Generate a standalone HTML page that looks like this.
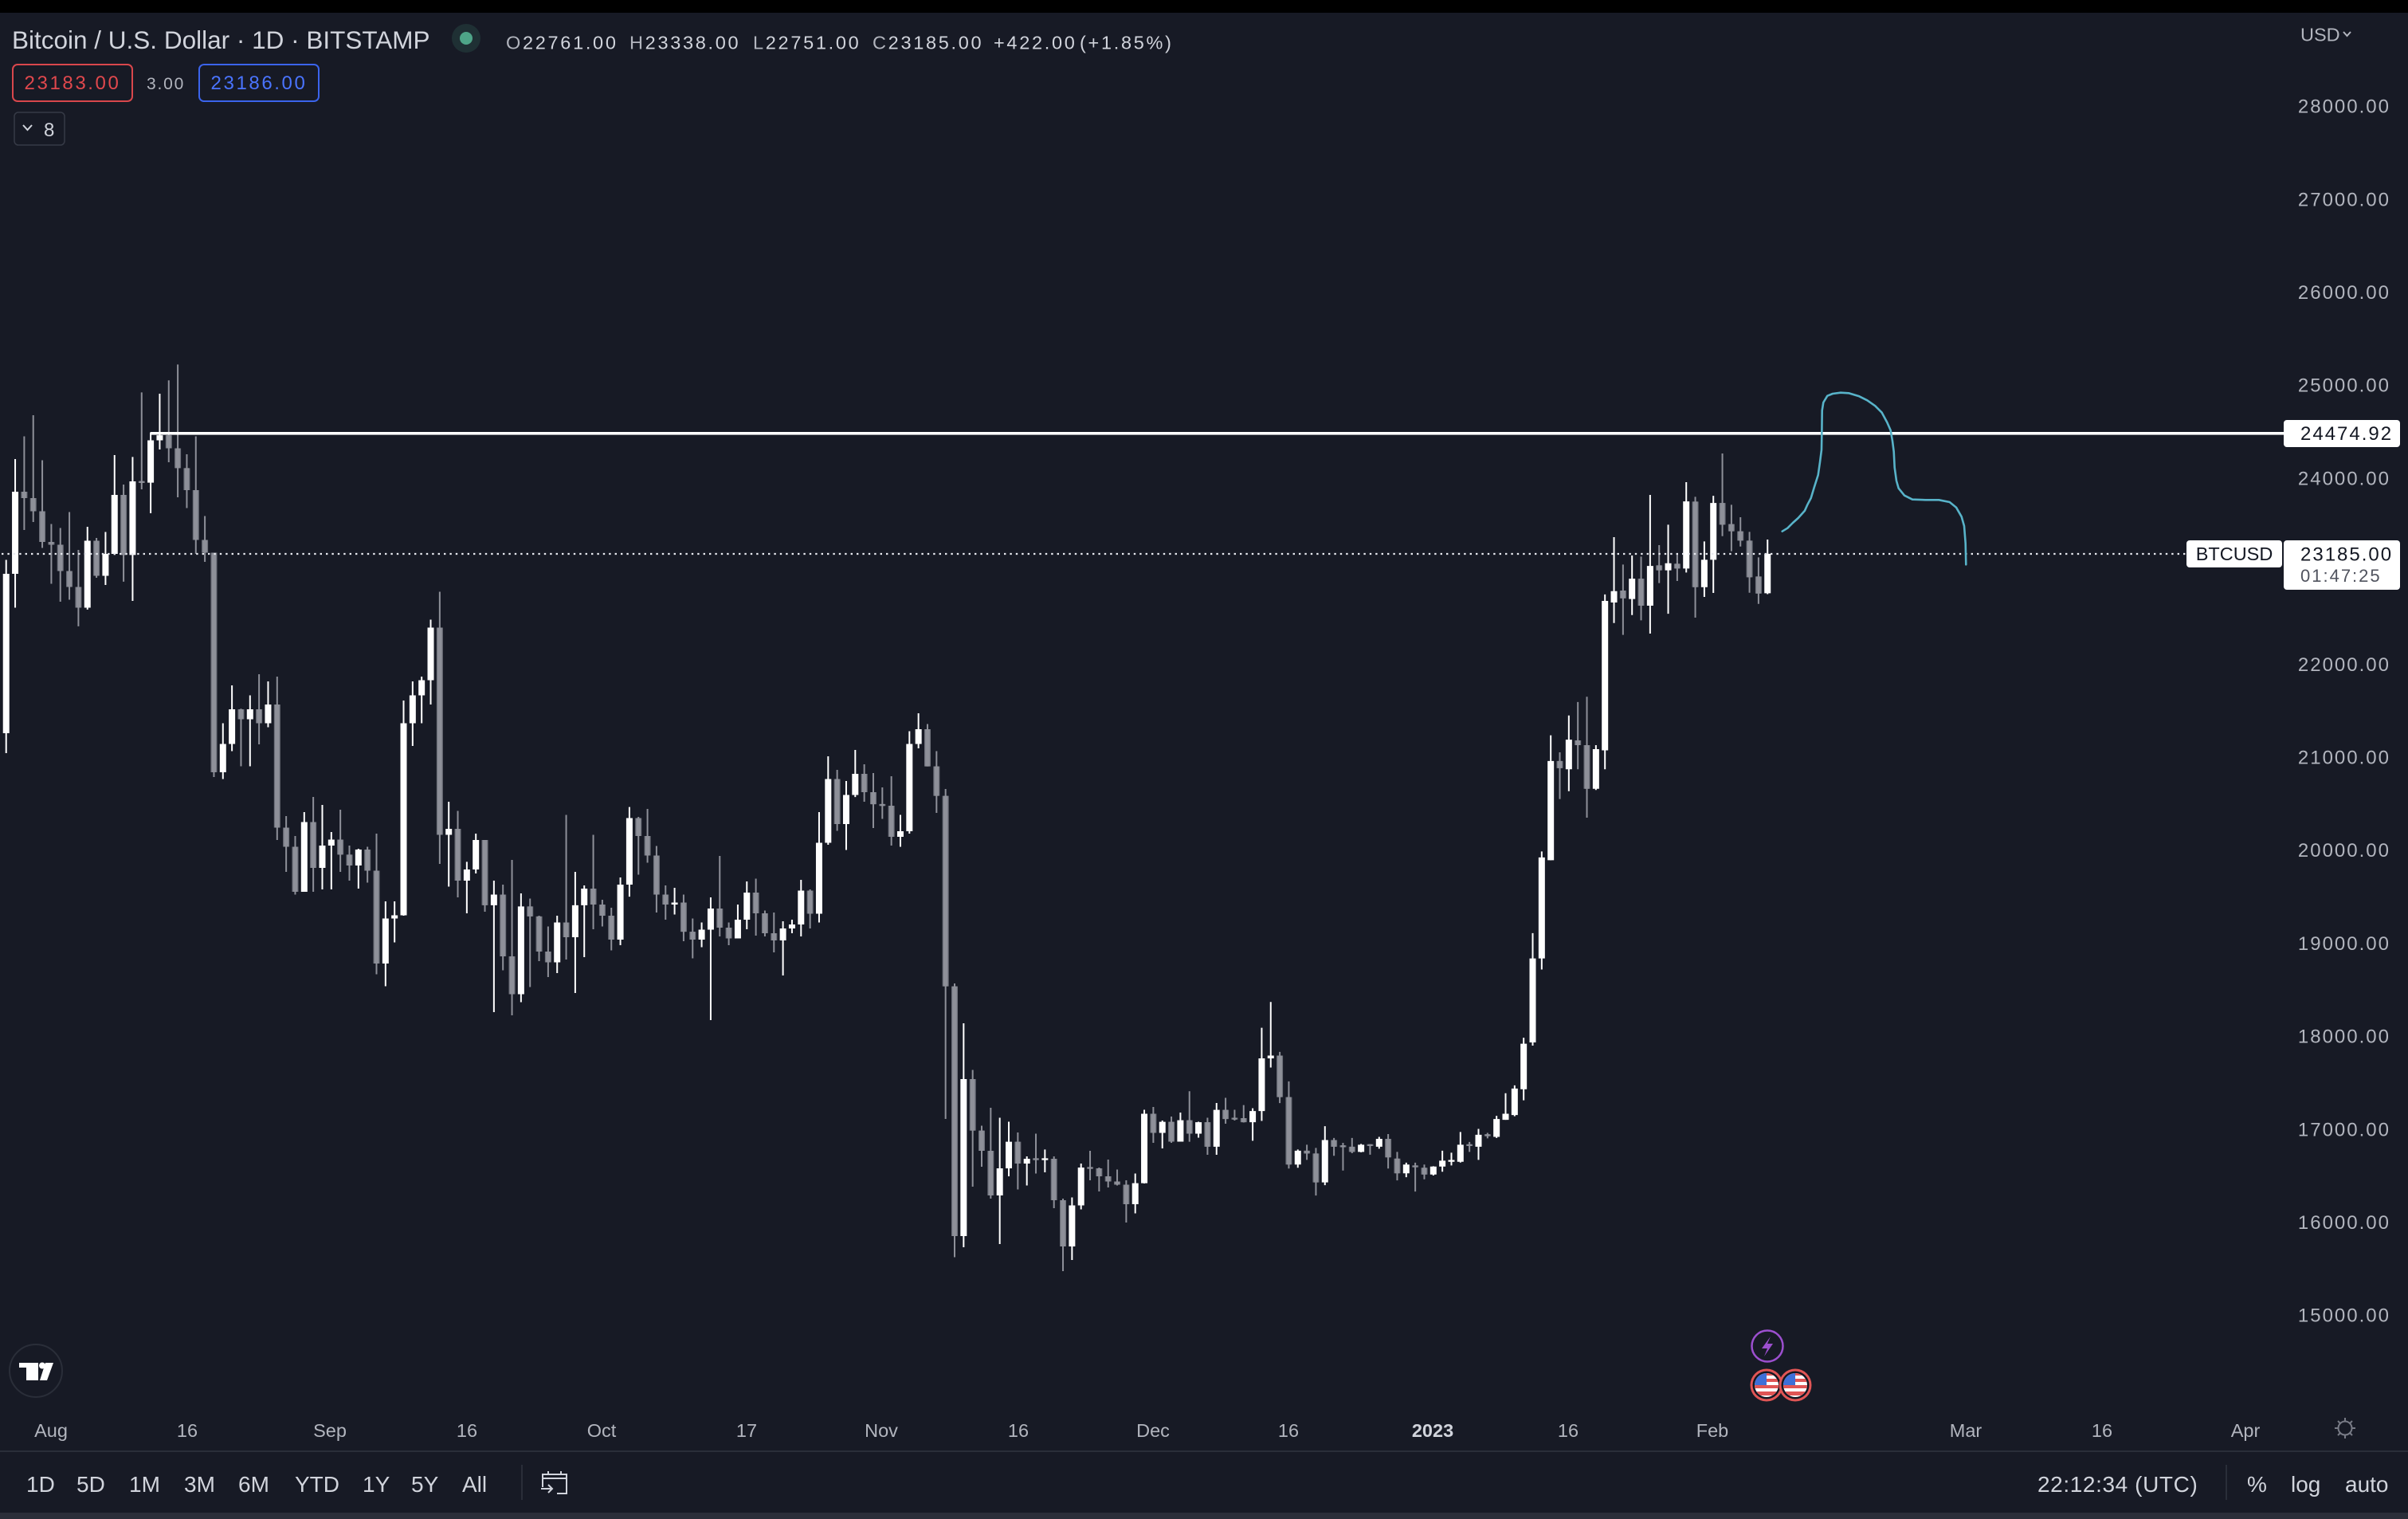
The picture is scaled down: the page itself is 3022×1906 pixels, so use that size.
<!DOCTYPE html>
<html><head><meta charset="utf-8">
<style>
html,body{margin:0;padding:0;background:#171a25;width:3022px;height:1906px;overflow:hidden}
svg{display:block;font-family:"Liberation Sans",sans-serif}
.dig{letter-spacing:2px}
</style></head><body>
<svg width="3022" height="1906" viewBox="0 0 3022 1906" xmlns="http://www.w3.org/2000/svg">
<rect width="3022" height="1906" fill="#171a25"/>
<rect width="3022" height="16" fill="#000"/>

<!-- header -->
<text x="15" y="61" font-size="31.5" fill="#d1d4dc">Bitcoin / U.S. Dollar · 1D · BITSTAMP</text>
<circle cx="585" cy="48" r="18" fill="#1f3034"/>
<circle cx="585" cy="48" r="8" fill="#4ea588"/>
<g font-size="23.5" style="letter-spacing:2.7px">
<text x="635" y="61.7"><tspan fill="#b2b5be">O</tspan><tspan fill="#d1d4dc">22761.00</tspan></text>
<text x="790" y="61.7"><tspan fill="#b2b5be">H</tspan><tspan fill="#d1d4dc">23338.00</tspan></text>
<text x="945" y="61.7"><tspan fill="#b2b5be">L</tspan><tspan fill="#d1d4dc">22751.00</tspan></text>
<text x="1095" y="61.7"><tspan fill="#b2b5be">C</tspan><tspan fill="#d1d4dc">23185.00</tspan></text>
<text x="1247" y="61.7" fill="#d1d4dc">+422.00</text>
<text x="1355" y="61.7" fill="#d1d4dc">(+1.85%)</text>
</g>
<rect x="16" y="81" width="150" height="46" rx="6" fill="none" stroke="#d9474c" stroke-width="2"/>
<text x="91" y="112" font-size="24" fill="#e0484d" text-anchor="middle" style="letter-spacing:2.6px">23183.00</text>
<text x="184" y="112" font-size="21" fill="#b2b5be" style="letter-spacing:1.8px">3.00</text>
<rect x="250" y="81" width="150" height="46" rx="6" fill="none" stroke="#3b64ec" stroke-width="2"/>
<text x="325" y="112" font-size="24" fill="#4a74ff" text-anchor="middle" style="letter-spacing:2.6px">23186.00</text>
<rect x="18" y="141" width="63" height="41" rx="5" fill="none" stroke="#363a46" stroke-width="1.5"/>
<path d="M29 157 L34.5 163 L40 157" fill="none" stroke="#d1d4dc" stroke-width="2"/>
<text x="55" y="171" font-size="24" fill="#d1d4dc">8</text>

<text x="2887" y="51.7" font-size="23.5" fill="#b2b5be">USD</text>
<path d="M2941 40 L2945.5 45 L2950 40" fill="none" stroke="#b2b5be" stroke-width="2"/>

<!-- price axis -->
<g font-size="24" fill="#b2b5be" text-anchor="end" class="dig">
<text x="3000" y="141.6">28000.00</text>
<text x="3000" y="258.3">27000.00</text>
<text x="3000" y="375">26000.00</text>
<text x="3000" y="491.7">25000.00</text>
<text x="3000" y="608.4">24000.00</text>
<text x="3000" y="841.8">22000.00</text>
<text x="3000" y="958.5">21000.00</text>
<text x="3000" y="1075.2">20000.00</text>
<text x="3000" y="1191.9">19000.00</text>
<text x="3000" y="1308.6">18000.00</text>
<text x="3000" y="1425.3">17000.00</text>
<text x="3000" y="1542">16000.00</text>
<text x="3000" y="1658.7">15000.00</text>
</g>

<!-- candles: x = 64.4 + 11.336*day, y = 3400.6 - 0.1167*price -->
<g transform="matrix(11.336 0 0 -0.1167 64.4 3400.6)" fill="none" stroke-linecap="butt">
<!-- white wicks -->
<path vector-effect="non-scaling-stroke" stroke="#ffffff" stroke-width="2" d="
M-5 23120V21042 M-4 24204V22606 M4 23476V22585 M6 23420V22850 M7 24247V23173 M9 24226V22679 M11 24491V23621 M12 24907V24307
M19 21363V20764 M20 21770V21063 M22 21663V20901 M24 21813V21321 M28 20408V19551 M30 20485V19577 M31 20194V19577 M34 20014V19585
M37 19448V18536 M38 19448V19007 M39 21608V19294 M40 21813V21119 M41 21865V21363 M42 22477V21565 M44 20519V19607 M46 19873V19320
M47 20177V19748 M49 19671V18257 M52 19534V18364 M56 19294V18677 M58 19765V18463 M59 19620V18848 M63 19705V18977 M64 20463V19499
M69 19594V19307 M72 19221V18955 M73 19491V18171 M76 19414V19050 M77 19662V19148 M81 19234V18651 M82 19251V19105 M83 19680V19071
M85 20408V19221 M86 21008V20057 M88 20742V20001 M89 21076V20570 M94 20378V20035 M95 21278V20176 M96 21470V21093 M101 18137V15729
M105 17122V15763 M106 17079V16492 M108 16706V16393 M110 16780V16535 M113 16265V15592 M114 16629V16136 M120 16522V16093 M121 17207V16415
M123 17092V16792 M125 17177V16865 M127 17079V16907 M129 17280V16723 M133 17223V16874 M134 18089V17087 M135 18366V17662 M138 16780V16584
M141 17031V16396 M145 16840V16750 M147 16916V16789 M150 16639V16482 M153 16600V16500 M154 16767V16541 M155 16746V16609 M156 16968V16640
M158 17002V16669 M160 17142V16904 M161 17385V17099 M162 17470V17138 M163 17982V17309 M164 19107V17897 M165 19985V18715 M166 21234V19891
M168 21447V20633 M171 21128V20646 M172 22748V20868 M173 23364V22441 M175 23167V22527 M177 23818V22327 M179 23498V22541 M181 23955V22984
M183 23318V22721 M184 23809V22764 M190 23338V22751"/>
<!-- gray wicks -->
<path vector-effect="non-scaling-stroke" stroke="#8e9099" stroke-width="2" d="
M-3 24448V23441 M-2 24675V23527 M-1 24191V23249 M0 23506V22863 M1 23463V22670 M2 23634V22692 M3 23227V22405 M5 23356V22927
M8 23930V22885 M10 24920V23878 M13 25050V24170 M14 25220V23793 M15 24255V23677 M16 24448V23184 M17 23591V23099 M18 23197V20785
M21 21520V20901 M23 21890V21136 M25 21865V20108 M26 20365V19765 M27 20151V19521 M29 20571V19551 M32 20434V19765 M33 20048V19671
M35 20035V19650 M36 20177V18664 M43 22777V19851 M45 20421V19491 M48 20108V19337 M50 19628V18707 M51 19894V18223 M53 19478V18527
M54 19294V18806 M55 19178V18634 M57 20378V18823 M60 20164V19148 M61 19465V19178 M62 19380V18921 M65 20357V19735 M66 20442V19864
M67 20044V19328 M68 19620V19251 M70 19521V19020 M71 19264V18835 M74 19937V19071 M75 19221V18977 M78 19692V19080 M79 19350V19071
M80 19328V18900 M84 19577V19157 M87 20862V20206 M90 20922V20519 M91 20828V20236 M92 20673V20335 M93 20793V20048 M97 21355V20900
M98 21063V20399 M99 20656V17109 M100 18566V15622 M102 17636V16380 M103 17036V16595 M104 17229V16252 M107 16963V16350 M109 16950V16522
M111 16706V16149 M112 16252V15472 M115 16766V16449 M116 16586V16329 M117 16672V16372 M118 16565V16393 M119 16449V15995 M122 17237V16852
M124 17134V16852 M126 17407V16864 M128 17122V16723 M130 17336V17057 M131 17207V17092 M132 17258V17070 M136 17830V17279 M137 17513V16575
M139 16831V16669 M140 16797V16285 M142 16904V16712 M143 16852V16554 M144 16904V16740 M146 16837V16724 M148 16946V16575 M149 16754V16448
M151 16639V16328 M152 16618V16460 M157 16861V16754 M159 16959V16900 M167 21051V20548 M169 21592V20868 M170 21648V20348 M174 23070V22313
M176 23155V22470 M178 23278V22870 M180 23184V22893 M182 23798V22499 M185 24264V23375 M186 23712V23213 M187 23578V23264 M188 23421V22767
M189 23147V22647"/>
<!-- white bodies -->
<path vector-effect="non-scaling-stroke" stroke="#ffffff" stroke-width="8" d="
M-5 21256V22970 M-4 22970V23853 M4 22606V23326 M6 22949V23184 M7 23184V23818 M9 23172V23964 M11 23950V24405 M12 24405V24460
M19 20836V21141 M20 21141V21513 M22 21406V21513 M24 21363V21565 M28 19551V20301 M30 19808V20048 M31 20048V20112 M34 19834V20005
M37 18780V19264 M38 19264V19298 M39 19298V21363 M40 21363V21663 M41 21663V21826 M42 21826V22392 M44 20164V20228 M46 19671V19791
M47 19791V20108 M49 19406V19521 M52 18450V19393 M56 18793V19221 M58 19063V19406 M59 19406V19585 M63 19037V19628 M64 19628V20344
M69 19414V19435 M72 19037V19144 M73 19144V19371 M76 19050V19251 M77 19251V19542 M81 19028V19157 M82 19157V19200 M83 19200V19564
M85 19315V20078 M86 20078V20763 M88 20279V20592 M89 20592V20819 M94 20142V20202 M95 20202V21140 M96 21140V21299 M101 15849V17537
M105 16286V16578 M106 16578V16864 M108 16629V16680 M110 16666V16686 M113 15738V16179 M114 16179V16586 M120 16192V16418 M121 16418V17164
M123 16959V17078 M125 16865V17095 M127 16950V17074 M129 16810V17206 M133 17074V17193 M134 17193V17760 M135 17760V17790 M138 16618V16767
M141 16426V16882 M145 16754V16831 M147 16810V16895 M150 16524V16618 M153 16511V16597 M154 16597V16660 M155 16648V16668 M156 16648V16831
M158 16810V16938 M160 16916V17108 M161 17099V17164 M162 17151V17436 M163 17428V17918 M164 17931V18834 M165 18834V19921 M166 19891V20957
M168 20868V21187 M171 20659V21085 M172 21072V22679 M173 22661V22784 M175 22699V22918 M177 22627V23055 M179 23007V23084 M181 23027V23749
M183 22827V23121 M184 23121V23732 M190 22761V23185"/>
<!-- gray bodies (outline + fill) -->
<path id="gb" vector-effect="non-scaling-stroke" stroke="#6f727c" stroke-width="8" d="
M-3 23853V23784 M-2 23784V23643 M-1 23643V23313 M0 23313V23283 M1 23283V23000 M2 23000V22829 M3 22829V22606 M5 23326V22949
M8 23818V23172 M10 23967V23947 M13 24460V24320 M14 24320V24106 M15 24106V23870 M16 23870V23334 M17 23334V23197 M18 23197V20836
M21 21513V21406 M23 21513V21363 M25 21565V20241 M26 20241V20035 M27 20035V19551 M29 20301V19808 M32 20112V19950 M33 19950V19834
M35 20005V19778 M36 19778V18780 M43 22392V20164 M45 20228V19671 M48 20108V19406 M50 19521V18857 M51 18857V18450 M53 19393V19286
M54 19286V18908 M55 18908V18793 M57 19221V19063 M60 19585V19414 M61 19414V19294 M62 19294V19037 M65 20344V20151 M66 20151V19941
M67 19941V19521 M68 19521V19414 M70 19435V19122 M71 19122V19037 M74 19371V19165 M75 19165V19050 M78 19542V19320 M79 19320V19105
M80 19105V19028 M84 19564V19315 M87 20763V20279 M90 20819V20622 M91 20622V20493 M92 20495V20474 M93 20476V20142 M97 21299V20900
M98 20900V20583 M99 20583V18535 M100 18535V15849 M102 17537V16984 M103 16984V16766 M104 16766V16286 M107 16864V16629 M109 16686V16666
M111 16680V16235 M112 16235V15738 M115 16592V16572 M116 16578V16492 M117 16492V16436 M118 16436V16402 M119 16402V16192 M122 17164V16959
M124 17078V16865 M126 17095V16950 M128 17074V16810 M130 17206V17108 M131 17122V17102 M132 17117V17074 M136 17790V17343 M137 17343V16618
M139 16767V16737 M140 16737V16426 M142 16882V16810 M143 16825V16805 M144 16810V16754 M146 16837V16817 M148 16895V16695 M149 16682V16524
M151 16609V16589 M152 16584V16511 M157 16837V16817 M159 16944V16924 M167 20957V20880 M169 21179V21128 M170 21128V20659 M174 22790V22707
M176 22918V22627 M178 23061V23007 M180 23078V23027 M182 23747V22827 M185 23732V23498 M186 23504V23427 M187 23427V23327 M188 23327V22933
M189 22941V22758"/>
<path vector-effect="non-scaling-stroke" stroke="#8e9099" stroke-width="5.5" d="
M-3 23853V23784 M-2 23784V23643 M-1 23643V23313 M0 23313V23283 M1 23283V23000 M2 23000V22829 M3 22829V22606 M5 23326V22949
M8 23818V23172 M10 23967V23947 M13 24460V24320 M14 24320V24106 M15 24106V23870 M16 23870V23334 M17 23334V23197 M18 23197V20836
M21 21513V21406 M23 21513V21363 M25 21565V20241 M26 20241V20035 M27 20035V19551 M29 20301V19808 M32 20112V19950 M33 19950V19834
M35 20005V19778 M36 19778V18780 M43 22392V20164 M45 20228V19671 M48 20108V19406 M50 19521V18857 M51 18857V18450 M53 19393V19286
M54 19286V18908 M55 18908V18793 M57 19221V19063 M60 19585V19414 M61 19414V19294 M62 19294V19037 M65 20344V20151 M66 20151V19941
M67 19941V19521 M68 19521V19414 M70 19435V19122 M71 19122V19037 M74 19371V19165 M75 19165V19050 M78 19542V19320 M79 19320V19105
M80 19105V19028 M84 19564V19315 M87 20763V20279 M90 20819V20622 M91 20622V20493 M92 20495V20474 M93 20476V20142 M97 21299V20900
M98 20900V20583 M99 20583V18535 M100 18535V15849 M102 17537V16984 M103 16984V16766 M104 16766V16286 M107 16864V16629 M109 16686V16666
M111 16680V16235 M112 16235V15738 M115 16592V16572 M116 16578V16492 M117 16492V16436 M118 16436V16402 M119 16402V16192 M122 17164V16959
M124 17078V16865 M126 17095V16950 M128 17074V16810 M130 17206V17108 M131 17122V17102 M132 17117V17074 M136 17790V17343 M137 17343V16618
M139 16767V16737 M140 16737V16426 M142 16882V16810 M143 16825V16805 M144 16810V16754 M146 16837V16817 M148 16895V16695 M149 16682V16524
M151 16609V16589 M152 16584V16511 M157 16837V16817 M159 16944V16924 M167 20957V20880 M169 21179V21128 M170 21128V20659 M174 22790V22707
M176 22918V22627 M178 23061V23007 M180 23078V23027 M182 23747V22827 M185 23732V23498 M186 23504V23427 M187 23427V23327 M188 23327V22933
M189 22941V22758"/>
</g>

<!-- horizontal level line -->
<rect x="189" y="542" width="2678" height="3.6" fill="#ffffff"/>
<!-- dotted last price line -->
<line x1="2" y1="695" x2="2744" y2="695" stroke="#e8eaf0" stroke-width="2.2" stroke-dasharray="2.4 5"/>

<!-- hand drawing -->
<polyline fill="none" stroke="#58b3c9" stroke-width="2.6" stroke-linejoin="round" stroke-linecap="round"
points="2236.7,666.7 2243.3,662.7 2250,656 2256.7,650 2265,640.7 2268.3,633.3 2272.7,625 2276.7,611.7 2281.7,596 2284,580 2286,564.3 2286.3,546.7 2286.7,515 2288.3,505 2293.3,496.7 2300,494 2310,492.7 2320,493.3 2333.3,497.3 2343.3,502.3 2353.3,509.3 2361.7,517.7 2368.3,530 2372.7,540 2375,553.3 2376.7,566.7 2377.7,586.7 2380,603.3 2382.7,612.7 2390,621.7 2400,626.7 2416.7,627.3 2433.3,627.3 2446.7,630 2455,636.7 2461.7,648.3 2465,660 2466.7,681.7 2467.3,708.3"/>

<!-- price labels -->
<rect x="2866" y="527" width="146" height="34" rx="4" fill="#ffffff"/>
<text x="2887" y="552" font-size="24" fill="#131722" class="dig">24474.92</text>
<rect x="2744" y="678" width="120" height="34" rx="4" fill="#ffffff"/>
<text x="2804" y="703" font-size="23.5" fill="#131722" text-anchor="middle">BTCUSD</text>
<rect x="2866" y="678" width="146" height="62" rx="4" fill="#ffffff"/>
<text x="2887" y="703.5" font-size="24" fill="#131722" class="dig">23185.00</text>
<text x="2887" y="730" font-size="22" fill="#50535e" class="dig">01:47:25</text>

<!-- TV logo -->
<circle cx="45" cy="1720" r="33" fill="none" stroke="#2a2e39" stroke-width="2"/>
<rect x="24" y="1710" width="24" height="6" fill="#ffffff"/>
<rect x="33" y="1710" width="15" height="22" fill="#ffffff"/>
<circle cx="53" cy="1713.5" r="4" fill="#ffffff"/>
<polygon points="57,1710 67,1710 59,1732 50,1732" fill="#ffffff"/>

<!-- events -->
<circle cx="2218" cy="1689" r="19.5" fill="none" stroke="#9c4fcf" stroke-width="2.5"/>
<path d="M2222 1677 L2211 1692 L2218 1692 L2214 1702 L2225 1686 L2218 1686 Z" fill="#9c4fcf"/>
<defs>
<clipPath id="f1"><circle cx="2217" cy="1738" r="15"/></clipPath>
<clipPath id="f2"><circle cx="2253" cy="1738" r="15"/></clipPath>
</defs>
<circle cx="2217" cy="1738" r="20.5" fill="#e05555"/>
<circle cx="2217" cy="1738" r="17.5" fill="#131722"/>
<g clip-path="url(#f1)">
<rect x="2200" y="1721" width="34" height="34" fill="#ffffff"/>
<rect x="2200" y="1722" width="34" height="4" fill="#e05555"/>
<rect x="2200" y="1730" width="34" height="4" fill="#e05555"/>
<rect x="2200" y="1738" width="34" height="4" fill="#e05555"/>
<rect x="2200" y="1746" width="34" height="5" fill="#e05555"/>
<rect x="2200" y="1721" width="17" height="17" fill="#3e6fd8"/>
</g>
<circle cx="2253" cy="1738" r="20.5" fill="#e05555"/>
<circle cx="2253" cy="1738" r="17.5" fill="#131722"/>
<g clip-path="url(#f2)">
<rect x="2236" y="1721" width="34" height="34" fill="#ffffff"/>
<rect x="2236" y="1722" width="34" height="4" fill="#e05555"/>
<rect x="2236" y="1730" width="34" height="4" fill="#e05555"/>
<rect x="2236" y="1738" width="34" height="4" fill="#e05555"/>
<rect x="2236" y="1746" width="34" height="5" fill="#e05555"/>
<rect x="2236" y="1721" width="17" height="17" fill="#3e6fd8"/>
</g>

<!-- time axis -->
<g font-size="23.5" fill="#b2b5be" text-anchor="middle">
<text x="64" y="1803">Aug</text>
<text x="235" y="1803">16</text>
<text x="414" y="1803">Sep</text>
<text x="586" y="1803">16</text>
<text x="755" y="1803">Oct</text>
<text x="937" y="1803">17</text>
<text x="1106" y="1803">Nov</text>
<text x="1278" y="1803">16</text>
<text x="1447" y="1803">Dec</text>
<text x="1617" y="1803">16</text>
<text x="1798" y="1803" font-weight="bold" fill="#d1d4dc">2023</text>
<text x="1968" y="1803">16</text>
<text x="2149" y="1803">Feb</text>
<text x="2467" y="1803">Mar</text>
<text x="2638" y="1803">16</text>
<text x="2818" y="1803">Apr</text>
</g>
<g fill="none" stroke="#787b86" stroke-width="2">
<circle cx="2943" cy="1792" r="8.5"/>
<path d="M2943 1779 V1783 M2943 1801 V1805 M2930 1792 H2934 M2952 1792 H2956 M2934 1783 L2937 1786 M2949 1798 L2952 1801 M2952 1783 L2949 1786 M2937 1798 L2934 1801"/>
</g>

<rect x="0" y="1820" width="3022" height="2" fill="#2a2e39"/>

<!-- bottom toolbar -->
<g font-size="28" fill="#d1d4dc">
<text x="33" y="1872">1D</text>
<text x="96" y="1872">5D</text>
<text x="162" y="1872">1M</text>
<text x="231" y="1872">3M</text>
<text x="299" y="1872">6M</text>
<text x="370" y="1872">YTD</text>
<text x="455" y="1872">1Y</text>
<text x="516" y="1872">5Y</text>
<text x="580" y="1872">All</text>
<text x="2557" y="1872" style="letter-spacing:0.6px">22:12:34 (UTC)</text>
<text x="2820" y="1872">%</text>
<text x="2875" y="1872">log</text>
<text x="2943" y="1872">auto</text>
</g>
<rect x="654" y="1838" width="2" height="44" fill="#2a2e39"/>
<rect x="2793" y="1838" width="2" height="44" fill="#2a2e39"/>
<g fill="none" stroke="#d1d4dc" stroke-width="2">
<path d="M681 1866 V1850 H711 V1874 H699"/>
<path d="M681 1855 H711"/>
<path d="M688 1846 V1851 M704 1846 V1851"/>
<path d="M679 1868 H693 M688 1863 L693 1868 L688 1873"/>
</g>

<rect x="0" y="1898" width="3022" height="8" fill="#2b2e39"/>
</svg>
</body></html>
